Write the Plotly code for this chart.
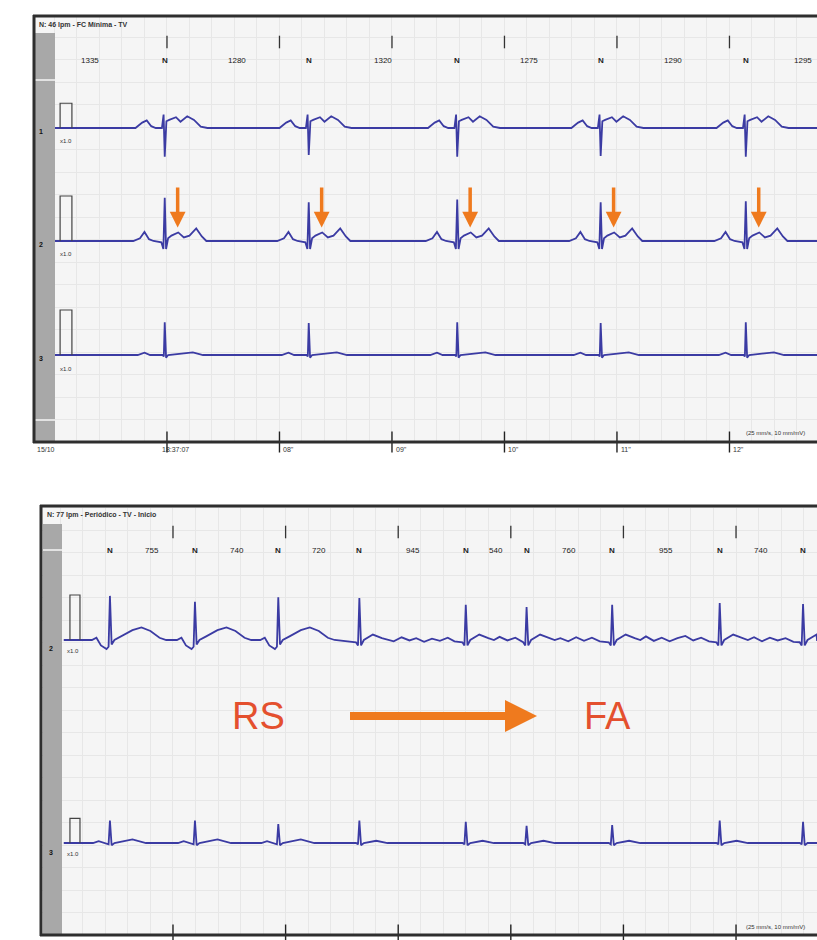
import plotly.graph_objects as go

# ---------------- DATA ----------------
top_title = "N: 46 lpm - FC Mínima - TV"
bottom_title = "N: 77 lpm - Periódico - TV - Inicio"
speed_note = "(25 mm/s, 10 mm/mV)"

# Top strip (time in s after 18:37:00)
top_first_beat = 6.98
top_rr_before_ms = 1335
top_rr_ms = [1280, 1320, 1275, 1290]
top_rr_after_ms = 1295
top_tick_s = [7, 8, 9, 10, 11, 12]
top_tick_labels = ["18:37:07", "08''", "09''", "10''", "11''", "12''"]
top_date_label = "15/10"
top_lead_names = ["1", "2", "3"]
top_cal_mv = [0.55, 1.0, 1.0]
top_lead1_qrs = [-0.64, -0.60, -0.64, -0.62, -0.64]
top_lead2_r = [0.96, 0.86, 0.92, 0.86, 0.88]
top_lead3_r = [0.73, 0.71, 0.73, 0.71, 0.73]

# Bottom strip (time in s from first time mark)
bot_first_beat = -0.56
bot_rr_ms = [755, 740, 720, 945, 540, 760, 955, 740]
bot_rhythm = ["RS", "RS", "RS", "FA", "FA", "FA", "FA", "FA", "FA"]
bot_tick_s = [0, 1, 2, 3, 4, 5]
bot_lead_names = ["2", "3"]
bot_cal_mv = [1.0, 0.55]
bot_leadA_r = [0.98, 0.85, 0.95, 0.93, 0.78, 0.73, 0.78, 0.82, 0.80]
bot_leadB_r = [0.50, 0.50, 0.42, 0.50, 0.47, 0.38, 0.40, 0.50, 0.47]

# fibrillation (f-wave) knots of bottom lead A during FA
fa_t = [1.90, 1.96, 2.03, 2.10, 2.16, 2.23, 2.30, 2.37, 2.44, 2.50,
        2.90, 2.97, 3.04, 3.44, 3.51, 3.58, 3.65, 3.72, 3.79,
        4.20, 4.27, 4.34, 4.41, 4.48, 4.55, 4.62, 4.69, 4.76,
        5.16, 5.23, 5.30, 5.37, 5.44, 5.51]
fa_v = [0.04, -0.03, 0.06, -0.01, 0.04, -0.04, 0.03, -0.02, 0.05, -0.03,
        0.07, -0.01, 0.05, 0.04, -0.03, 0.06, -0.02, 0.05, -0.03,
        0.08, -0.02, 0.05, -0.03, 0.04, 0.09, -0.01, 0.05, -0.03,
        0.06, -0.03, 0.05, -0.01, 0.04, -0.04]

# beat waveform templates: (offset s from R, mV); dt == 0 is the per-beat main deflection
tpl_top1 = [(-0.26, 0), (-0.20, 0.12), (-0.16, 0.17), (-0.12, 0.04), (-0.08, 0),
            (-0.025, 0), (-0.01, 0.30), (0.0, -0.6), (0.015, 0.15), (0.04, 0.18),
            (0.10, 0.24), (0.14, 0.14), (0.20, 0.26), (0.26, 0.18), (0.32, 0.03), (0.38, 0)]
tpl_top2 = [(-0.28, 0), (-0.22, 0.06), (-0.18, 0.20), (-0.14, 0.04), (-0.10, 0),
            (-0.03, -0.03), (-0.012, -0.18), (0.0, 0.9), (0.012, -0.18), (0.03, 0.06),
            (0.06, 0.12), (0.12, 0.19), (0.17, 0.08), (0.22, 0.12), (0.28, 0.28),
            (0.33, 0.10), (0.37, 0)]
tpl_top3 = [(-0.24, 0), (-0.18, 0.05), (-0.13, 0), (-0.02, 0), (-0.008, -0.03),
            (0.0, 0.73), (0.012, -0.06), (0.03, 0), (0.15, 0.04), (0.25, 0.06), (0.34, 0)]
tpl_A_rs = [(-0.16, 0), (-0.12, 0.05), (-0.08, -0.12), (-0.03, -0.2), (-0.012, -0.15),
            (0.0, 0.95), (0.015, -0.1), (0.04, 0.0), (0.10, 0.08), (0.20, 0.22),
            (0.28, 0.28), (0.36, 0.20), (0.44, 0.05), (0.50, 0)]
tpl_A_fa = [(-0.03, -0.05), (-0.012, -0.12), (0.0, 0.85), (0.015, -0.12), (0.04, 0.0),
            (0.12, 0.12), (0.20, 0.04), (0.25, 0)]
tpl_B_rs = [(-0.15, 0), (-0.10, 0.04), (-0.05, 0), (-0.012, -0.03), (0.0, 0.5),
            (0.015, -0.05), (0.04, 0), (0.20, 0.08), (0.32, 0)]
tpl_B_fa = [(-0.03, 0), (-0.012, -0.03), (0.0, 0.5), (0.015, -0.05), (0.04, 0),
            (0.15, 0.05), (0.25, 0)]

# ---------------- GEOMETRY (layout only) ----------------
W, H = 817, 940


def px(x):
    return x / W


def py(y):
    return 1 - y / H


TOP_RANGE = [5.818, 12.778]
TOP_Y = [0, 9.489]
TOP_BASE = [6.978, 4.467, 1.933]
BOT_RANGE = [-1.181, 5.719]
BOT_Y = [0, 9.556]
BOT_BASE = [6.556, 2.044]

TRACE = "#3b3ba3"
ORANGE = "#ef7a1e"
FONT = "Liberation Sans, Arial, sans-serif"


def beat_times(first, rr):
    t = [first]
    for r in rr:
        t.append(t[-1] + r / 1000.0)
    return t


def build(beats, amps, templates, t0, t1, fw_t=None, fw_v=None):
    pts = [(t0, 0.0)]
    wins = []
    for tb, a, tpl in zip(beats, amps, templates):
        for dt, v in tpl:
            pts.append((tb + dt, a if dt == 0 else v))
        wins.append((tb + tpl[0][0], tb + tpl[-1][0]))
    if fw_t:
        for t, v in zip(fw_t, fw_v):
            if not any(lo <= t <= hi for lo, hi in wins):
                pts.append((t, v))
    pts.append((t1, 0.0))
    pts.sort()
    return [p[0] for p in pts], [p[1] for p in pts]


fig = go.Figure()

top_beats = beat_times(top_first_beat, top_rr_ms)
bot_beats = beat_times(bot_first_beat, bot_rr_ms)

LW = 1.8
# ---- top leads
for base, amps, tpl in zip(TOP_BASE, [top_lead1_qrs, top_lead2_r, top_lead3_r],
                           [tpl_top1, tpl_top2, tpl_top3]):
    xs, ys = build(top_beats, amps, [tpl] * len(top_beats), 6.0, TOP_RANGE[1])
    fig.add_trace(go.Scatter(x=xs, y=[v + base for v in ys], mode="lines",
                             line=dict(color=TRACE, width=LW), xaxis="x", yaxis="y",
                             hoverinfo="skip", showlegend=False))

# ---- bottom leads
tplA = [tpl_A_rs if r == "RS" else tpl_A_fa for r in bot_rhythm]
tplB = [tpl_B_rs if r == "RS" else tpl_B_fa for r in bot_rhythm]
xa, ya = build(bot_beats, bot_leadA_r, tplA, -0.97, BOT_RANGE[1], fa_t, fa_v)
xb, yb = build(bot_beats, bot_leadB_r, tplB, -0.97, BOT_RANGE[1])
for xs, ys, base in [(xa, ya, BOT_BASE[0]), (xb, yb, BOT_BASE[1])]:
    fig.add_trace(go.Scatter(x=xs, y=[v + base for v in ys], mode="lines",
                             line=dict(color=TRACE, width=LW), xaxis="x2", yaxis="y2",
                             hoverinfo="skip", showlegend=False))

# ---- calibration pulses
for base, h in zip(TOP_BASE, top_cal_mv):
    fig.add_trace(go.Scatter(x=[6.05, 6.05, 6.155, 6.155], y=[base, base + h, base + h, base],
                             mode="lines", line=dict(color="#444", width=1.2),
                             xaxis="x", yaxis="y", hoverinfo="skip", showlegend=False))
for base, h in zip(BOT_BASE, bot_cal_mv):
    fig.add_trace(go.Scatter(x=[-0.915, -0.915, -0.826, -0.826], y=[base, base + h, base + h, base],
                             mode="lines", line=dict(color="#444", width=1.2),
                             xaxis="x2", yaxis="y2", hoverinfo="skip", showlegend=False))

# ---- time marks (top "|" and axis ticks)
fig.add_trace(go.Scatter(x=top_tick_s, y=[8.889] * len(top_tick_s), mode="markers",
                         marker=dict(symbol="line-ns", size=9, line=dict(color="#333", width=1.3)),
                         xaxis="x", yaxis="y", hoverinfo="skip", showlegend=False))
fig.add_trace(go.Scatter(x=top_tick_s, y=[0] * len(top_tick_s), mode="markers",
                         marker=dict(symbol="line-ns", size=15, line=dict(color="#222", width=1.4)),
                         xaxis="x", yaxis="y", hoverinfo="skip", showlegend=False, cliponaxis=False))
fig.add_trace(go.Scatter(x=bot_tick_s, y=[8.956] * len(bot_tick_s), mode="markers",
                         marker=dict(symbol="line-ns", size=9, line=dict(color="#333", width=1.3)),
                         xaxis="x2", yaxis="y2", hoverinfo="skip", showlegend=False))
fig.add_trace(go.Scatter(x=bot_tick_s, y=[0] * len(bot_tick_s), mode="markers",
                         marker=dict(symbol="line-ns", size=15, line=dict(color="#222", width=1.4)),
                         xaxis="x2", yaxis="y2", hoverinfo="skip", showlegend=False, cliponaxis=False))

ann = []
small = dict(family=FONT, size=8, color="#222")
C = dict(xanchor="center", yanchor="middle", showarrow=False)

# ---- beat labels top
prev_beat = top_beats[0] - top_rr_before_ms / 1000.0
ann.append(dict(x=(prev_beat + top_beats[0]) / 2, y=8.489, xref="x", yref="y",
                text=str(top_rr_before_ms), font=small, **C))
for i, tb in enumerate(top_beats):
    ann.append(dict(x=tb, y=8.489, xref="x", yref="y", text="<b>N</b>", font=small, **C))
    if i < len(top_rr_ms):
        ann.append(dict(x=(tb + top_beats[i + 1]) / 2, y=8.489, xref="x", yref="y",
                        text=str(top_rr_ms[i]), font=small, **C))
ann.append(dict(x=px(814), y=8.489, xref="paper", yref="y", text=str(top_rr_after_ms),
                font=small, xanchor="right", yanchor="middle", showarrow=False))

# ---- beat labels bottom
for i, tb in enumerate(bot_beats):
    ann.append(dict(x=tb, y=8.556, xref="x2", yref="y2", text="<b>N</b>", font=small, **C))
    if i < len(bot_rr_ms):
        ann.append(dict(x=(tb + bot_beats[i + 1]) / 2, y=8.556, xref="x2", yref="y2",
                        text=str(bot_rr_ms[i]), font=small, **C))

# ---- orange arrows on lead 2 (top)
for tb in top_beats:
    ann.append(dict(x=tb + 0.115, y=TOP_BASE[1] + 0.3, xref="x", yref="y",
                    ax=0, ay=-50, showarrow=True, arrowhead=2, arrowsize=0.9,
                    arrowwidth=3.5, arrowcolor=ORANGE, standoff=0))

# ---- time labels top axis
tiny = dict(family=FONT, size=7, color="#333")
ann.append(dict(x=px(46), y=py(449), xref="paper", yref="paper", text=top_date_label,
                font=tiny, **C))
for t, lab in zip(top_tick_s, top_tick_labels):
    ann.append(dict(x=t + 0.08, y=py(449), xref="x", yref="paper", text=lab, font=tiny, **C))

# ---- headers, speed note
L = dict(xanchor="left", yanchor="middle", showarrow=False)
ann.append(dict(x=px(37), y=py(25), xref="paper", yref="paper", text="<b>" + top_title + "</b>",
                font=tiny, **L))
ann.append(dict(x=px(45), y=py(515), xref="paper", yref="paper", text="<b>" + bottom_title + "</b>",
                font=tiny, **L))
ann.append(dict(x=px(744), y=py(433), xref="paper", yref="paper", text=speed_note,
                font=dict(family=FONT, size=6, color="#333"), **L))
ann.append(dict(x=px(744), y=py(927), xref="paper", yref="paper", text=speed_note,
                font=dict(family=FONT, size=6, color="#333"), **L))

# ---- lead names and gain
for base, name in zip(TOP_BASE, top_lead_names):
    ann.append(dict(x=px(41), y=base - 0.08, xref="paper", yref="y", text="<b>" + name + "</b>",
                    font=dict(family=FONT, size=7, color="#111"), **C))
    ann.append(dict(x=px(58), y=base - 0.3, xref="paper", yref="y", text="x1.0",
                    font=dict(family=FONT, size=6, color="#333"), **L))
for base, name in zip(BOT_BASE, bot_lead_names):
    ann.append(dict(x=px(51), y=base - 0.2, xref="paper", yref="y2", text="<b>" + name + "</b>",
                    font=dict(family=FONT, size=7, color="#111"), **C))
    ann.append(dict(x=px(65), y=base - 0.25, xref="paper", yref="y2", text="x1.0",
                    font=dict(family=FONT, size=6, color="#333"), **L))

# ---- RS -> FA
big = dict(family=FONT, size=38, color="#e4502e")
ann.append(dict(x=px(258), y=py(716), xref="paper", yref="paper", text="RS", font=big, **C))
ann.append(dict(x=px(607), y=py(716), xref="paper", yref="paper", text="FA", font=big, **C))
ann.append(dict(x=px(537), y=py(716), xref="paper", yref="paper", ax=-190, ay=0,
                showarrow=True, arrowhead=2, arrowsize=0.8, arrowwidth=8,
                arrowcolor=ORANGE, standoff=0))

# ---- shapes: grey strips and borders
shapes = []
for x0, x1, y0, y1 in [(35, 55, 33, 441), (43, 62, 524, 934)]:
    shapes.append(dict(type="rect", xref="paper", yref="paper", x0=px(x0), x1=px(x1),
                       y0=py(y1), y1=py(y0), fillcolor="#a8a8a8", line=dict(width=0), layer="above"))
for x0, x1, yy in [(35, 55, 80), (35, 55, 420), (43, 62, 550)]:
    shapes.append(dict(type="line", xref="paper", yref="paper", x0=px(x0), x1=px(x1),
                       y0=py(yy), y1=py(yy), line=dict(color="#e2e2e2", width=2), layer="above"))
border = dict(color="#2e2e2e", width=3)
for (x0, y0, x1, y1) in [(33, 16, 817, 16), (34, 15, 34, 443), (33, 442, 817, 442),
                         (40, 506, 817, 506), (41, 505, 41, 936), (40, 935, 817, 935)]:
    shapes.append(dict(type="line", xref="paper", yref="paper", x0=px(x0), x1=px(x1),
                       y0=py(y0), y1=py(y1), line=border, layer="above"))

axis_common = dict(showticklabels=False, zeroline=False, ticks="", showline=False,
                   showgrid=True, gridcolor="#e7e7e7", gridwidth=1, fixedrange=True)

fig.update_layout(
    width=W, height=H, margin=dict(l=0, r=0, t=0, b=0),
    paper_bgcolor="white", plot_bgcolor="#f5f5f5",
    xaxis=dict(domain=[px(34), 1], range=TOP_RANGE, anchor="y", dtick=0.2, tick0=0, **axis_common),
    yaxis=dict(domain=[py(442), py(15)], range=TOP_Y, anchor="x", dtick=0.5, tick0=0, **axis_common),
    xaxis2=dict(domain=[px(40), 1], range=BOT_RANGE, anchor="y2", dtick=0.2, tick0=0, **axis_common),
    yaxis2=dict(domain=[py(935), py(505)], range=BOT_Y, anchor="x2", dtick=0.5, tick0=0, **axis_common),
    annotations=ann, shapes=shapes, showlegend=False,
)

# remove the default page margin so the figure sits at the window's top-left corner
fig.write_html("out.html", config={"displayModeBar": False},
               post_script="document.body.style.margin='0';document.body.style.overflow='hidden';")
